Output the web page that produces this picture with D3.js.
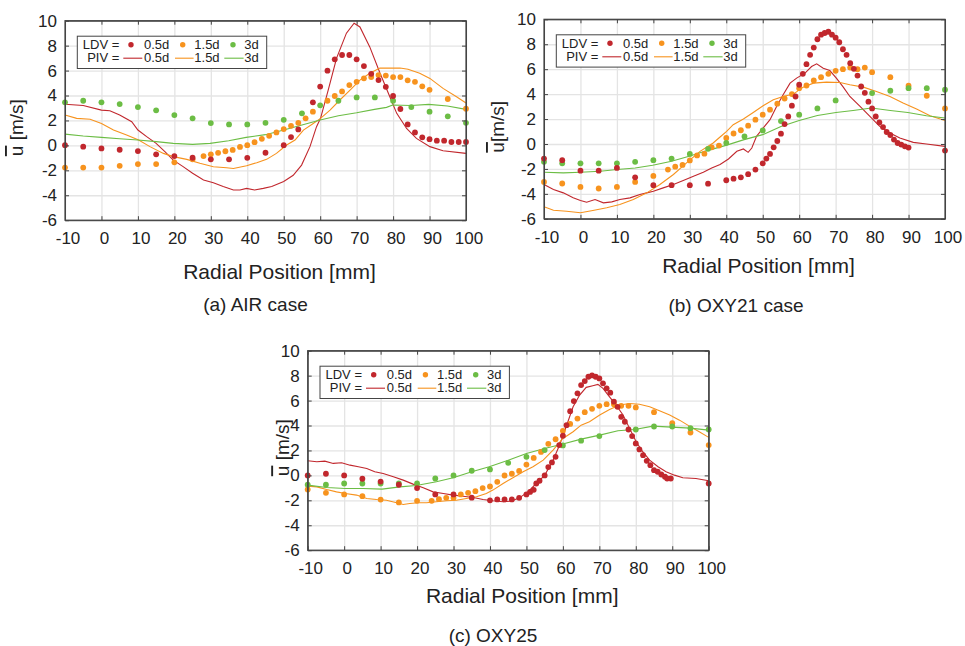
<!DOCTYPE html>
<html>
<head>
<meta charset="utf-8">
<script src="https://cdn.jsdelivr.net/npm/d3@7"></script>
<style>
  body { margin: 0; background: #fff; }
  svg { font-family: "Liberation Sans", Arial, sans-serif; }
  .grid line { stroke: #e4e4e4; stroke-width: 1.3; }
  .grid path { display: none; }
  .ax path, .ax line { stroke: #444; }
  .ax text { fill: #222; font-size: 17px; font-family: "Liberation Sans", Arial, sans-serif; }
</style>
</head>
<body>
<svg width="965" height="646"></svg>
<script>
const xTicks = [-10, 0, 10, 20, 30, 40, 50, 60, 70, 80, 90, 100]
const yTicks = [-6, -4, -2, 0, 2, 4, 6, 8, 10]
const series = ['0.5d', '1.5d', '3d']
const colors = ['#c1272d', '#f7931e', '#6cbd45']

// (a) AIR case
const airLdv05 = [[-10,0.02],[-5,-0.1],[0,-0.24],[5,-0.35],[10,-0.46],[15,-0.72],[20,-0.86],[25,-0.99],[30,-1.12],[35,-1.12],[40,-1.0],[45,-0.59],[50,0.02],[52,0.67],[54,1.28],[58,3.45],[60,4.72],[62,5.99],[64,6.9],[66,7.25],[68,7.25],[70,6.9],[72,6.36],[74,5.74],[76,5.24],[78,4.7],[80,3.96],[82,2.92],[84,1.68],[86,1.04],[88,0.65],[90,0.5],[92,0.38],[94,0.38],[96,0.27],[98,0.27],[100,0.27]]
const airLdv15 = [[-10,-1.78],[-5,-1.78],[0,-1.78],[5,-1.64],[10,-1.5],[15,-1.5],[20,-1.36],[25,-1.12],[28,-0.86],[30,-0.72],[32,-0.6],[34,-0.47],[36,-0.36],[38,-0.12],[40,0.02],[42,0.26],[44,0.53],[46,0.77],[48,1.04],[50,1.31],[52,1.57],[54,1.81],[56,2.17],[58,2.7],[62,3.58],[64,3.96],[66,4.33],[68,4.84],[70,5.1],[72,5.38],[74,5.48],[76,5.64],[78,5.6],[80,5.48],[82,5.48],[84,5.22],[86,5.1],[88,4.74],[90,4.46],[95,3.72],[100,2.94]]
const airLdv3 = [[-10,3.45],[-5,3.58],[0,3.45],[5,3.31],[10,3.07],[15,2.81],[20,2.43],[25,2.17],[30,1.79],[35,1.68],[40,1.68],[45,1.81],[50,2.05],[55,2.57],[60,3.21],[65,3.58],[70,3.85],[75,3.85],[80,3.58],[85,3.07],[90,2.7],[95,2.33],[100,1.81]]
const airPiv05 = [[-10,3.3],[-5,3.2],[0,2.83],[2.3,2.78],[5,2.43],[8.3,1.9],[10,1.23],[12.4,0.7],[15,0.16],[17.4,-0.5],[19.7,-1.18],[22.4,-1.7],[25,-2.24],[28,-2.78],[30.7,-3.0],[33.4,-3.3],[36.2,-3.58],[38,-3.58],[39.8,-3.45],[42,-3.58],[44.4,-3.45],[46.7,-3.3],[50,-2.9],[52.6,-2.4],[54.9,-1.58],[57.2,-0.1],[59,1.5],[60.1,2.17],[62.2,4.44],[64.5,7.0],[67.2,9.0],[69.3,9.8],[70.9,9.5],[73.6,7.9],[76.4,5.8],[79.1,3.9],[81,2.57],[83.7,1.36],[86.4,0.56],[90.1,-0.1],[93.7,-0.43],[100,-0.64]]
const airPiv15 = [[-10,2.43],[-6.8,2.17],[-3.1,2.1],[0,1.76],[3.3,1.23],[6.9,0.83],[10.2,0.43],[13.3,-0.1],[17,-0.64],[19.7,-0.9],[23.4,-1.12],[27,-1.44],[30.7,-1.71],[34.3,-1.79],[36.2,-1.85],[39.8,-1.63],[42.6,-1.39],[45.3,-1.12],[48,-0.64],[50.8,0.03],[53.1,0.43],[55.4,1.23],[58.1,1.76],[60.1,2.17],[62.7,2.83],[65.4,3.64],[68.2,4.44],[70.9,5.24],[73.6,5.78],[76.4,6.2],[79.1,6.2],[81.9,6.2],[84.1,6.1],[87.3,5.78],[90.1,5.37],[93.7,4.57],[97.4,3.9],[100,3.4]]
const airPiv3 = [[-10,0.9],[-5,0.75],[0,0.64],[5,0.53],[10,0.43],[15,0.3],[19.7,0.16],[25,0.08],[29.8,0.16],[34.9,0.37],[39.7,0.64],[45,0.86],[50,1.23],[55,1.63],[60,2.03],[65,2.38],[70,2.62],[74.9,2.89],[78.2,3.05],[79.9,3.24],[84.9,3.2],[89.8,3.29],[94.9,3.16],[100,2.89]]

// (b) OXY21 case
const oxy21Ldv05 = [[-10,-1.17],[-5,-1.3],[0,-2.14],[5,-2.14],[10,-1.92],[15,-2.67],[20,-3.3],[25,-3.3],[30,-3.3],[35,-3.18],[40,-2.91],[42,-2.78],[44,-2.67],[46,-2.42],[48,-2.05],[50,-1.55],[51,-1.17],[52,-0.8],[53,-0.27],[54,0.24],[55,0.83],[56,1.6],[57,2.21],[58,3.07],[59,3.81],[60,4.75],[61,5.63],[62,6.4],[63,7.15],[64,7.73],[65,8.4],[66,8.77],[67,8.9],[68,9.0],[69,8.77],[70,8.53],[71,8.16],[72,7.6],[73,7.15],[74,6.48],[75,6.03],[76,5.49],[77,4.61],[78,4.1],[79,3.39],[80,2.85],[81,2.21],[82,1.73],[83,1.36],[84,0.96],[85,0.72],[86,0.35],[87,0.08],[88,-0.05],[89,-0.19],[90,-0.29],[100,-0.53]]
const oxy21Ldv15 = [[-10,-3.04],[-5,-3.17],[0,-3.44],[5,-3.57],[10,-3.44],[15,-3.04],[20,-2.56],[24,-2.05],[26,-1.82],[28,-1.68],[30,-1.32],[32,-0.92],[34,-0.78],[36,-0.27],[38,-0.13],[40,0.48],[42,0.84],[44,1.1],[46,1.47],[48,1.95],[50,2.35],[52,2.75],[54,3.23],[56,3.65],[58,4.0],[60,4.48],[62,4.69],[64,5.09],[66,5.36],[68,5.63],[70,5.87],[72,6.0],[74,6.13],[76,6.0],[78,6.13],[80,5.76],[85,5.36],[90,4.67],[95,3.87],[100,2.85]]
const oxy21Ldv3 = [[-10,-1.43],[-5,-1.55],[0,-1.55],[5,-1.55],[10,-1.55],[15,-1.43],[20,-1.3],[25,-1.17],[30,-0.8],[35,-0.39],[40,0.09],[45,0.61],[50,1.09],[55,1.84],[60,2.35],[65,2.85],[70,3.49],[80,4.08],[85,4.27],[90,4.48],[95,4.48],[100,4.35]]
const oxy21Piv05 = [[-10,-3.25],[-7.4,-3.65],[-4.7,-3.92],[-2,-4.32],[0,-4.53],[1.7,-4.67],[4,-4.45],[6.3,-4.72],[8.6,-4.64],[10.8,-4.45],[13.6,-4.32],[16.3,-4.05],[18.2,-3.92],[20,-3.79],[22.7,-3.52],[25.5,-3.25],[28.2,-2.93],[31,-2.59],[33.7,-2.27],[36,-1.92],[38.3,-1.65],[40.6,-1.2],[42.9,-0.59],[44.7,-0.4],[46,-0.67],[47,-0.32],[48.3,0.61],[50.1,1.28],[52,1.95],[53.8,3.01],[55.6,3.95],[57.5,4.88],[59.3,5.28],[61.6,5.68],[63.4,6.21],[64.8,6.43],[66.6,6.08],[68.4,5.89],[70.2,5.28],[72.1,4.56],[73.9,3.81],[76.7,3.01],[79.4,2.21],[82.1,1.41],[84.9,0.88],[87.6,0.48],[91.3,0.13],[94.9,0.0],[100,-0.19]]
const oxy21Piv15 = [[-10,-5.04],[-7.4,-5.31],[-3.8,-5.39],[0,-5.52],[3.4,-5.33],[7.2,-5.12],[10.8,-4.85],[14.5,-4.45],[18.2,-3.92],[21.8,-3.25],[25.5,-2.45],[29.1,-1.52],[32.8,-0.59],[36.4,0.08],[38.3,0.56],[40.1,1.01],[41.9,1.55],[44.7,2.0],[47.4,2.53],[50.1,3.07],[52.9,3.55],[55.6,3.81],[58.4,4.0],[61.1,4.56],[63.9,4.88],[67.5,4.96],[71.2,4.93],[73.9,4.75],[77.6,4.56],[81.2,4.21],[84.9,3.81],[88.5,3.28],[92.2,2.8],[95.9,2.27],[100,1.89]]
const oxy21Piv3 = [[-10,-2.27],[-4.7,-2.32],[0,-2.27],[5.4,-2.19],[10.1,-2.05],[15,-1.92],[19.8,-1.71],[25,-1.39],[29.8,-0.99],[35,-0.51],[39.9,-0.11],[44.9,0.35],[50,0.75],[55,1.41],[60,1.89],[65,2.29],[70.1,2.53],[74.8,2.69],[79.8,2.88],[85,2.69],[89.8,2.53],[94.9,2.27],[100,2.08]]

// (c) OXY25
const oxy25Ldv05 = [[-10,0.0],[-5,0.13],[0,0.0],[5,-0.27],[10,-0.5],[15,-0.75],[20,-1.02],[25,-1.53],[30,-1.53],[35,-1.79],[40,-2.0],[42,-1.93],[44,-1.93],[46,-1.93],[48,-1.8],[50,-1.53],[51,-1.33],[52,-1.16],[52.7,-0.65],[53.6,-0.43],[55,0.0],[56,0.67],[57,1.04],[58,1.49],[59,2.43],[60,3.18],[61,4.03],[62,5.15],[63,5.96],[64,6.58],[65,7.24],[66,7.56],[67,7.91],[68,8.02],[69,7.91],[70,7.78],[71,7.38],[72,6.98],[73,6.63],[74,5.91],[75,5.5],[76,4.7],[77,4.3],[78,3.68],[79,3.15],[80,2.56],[81,2.08],[82,1.62],[83,1.17],[84,0.82],[85,0.42],[86,0.29],[87,0.07],[88,-0.11],[88.6,-0.25],[89.6,-0.25],[100,-0.65]]
const oxy25Ldv15 = [[-10,-1.13],[-5,-1.4],[0,-1.53],[5,-1.67],[10,-1.94],[15,-2.17],[20,-2.04],[24,-2.04],[26,-1.91],[28,-1.8],[30,-1.8],[32,-1.53],[34,-1.4],[36,-1.27],[38,-1.02],[40,-0.89],[42,-0.52],[44,-0.01],[46,0.13],[48,0.36],[50,0.87],[52,1.4],[54,1.88],[56,2.53],[58,2.9],[60,3.57],[62,4.13],[64,4.56],[66,5.07],[68,5.34],[70,5.58],[72,5.71],[74,5.71],[76,5.58],[78,5.58],[80,5.45],[85,5.07],[90,4.19],[95,3.44],[100,2.43]]
const oxy25Ldv3 = [[-10,-0.75],[-5,-0.75],[0,-0.65],[5,-0.65],[10,-0.65],[15,-0.65],[20,-0.65],[25,-0.25],[30,0.0],[35,0.37],[40,0.48],[45,1.01],[50,1.49],[55,2.03],[60,2.4],[65,2.78],[70,3.15],[80,3.68],[85,3.92],[90,3.92],[95,3.79],[100,3.68]]
const oxy25Piv05 = [[-10,1.17],[-7.5,1.09],[-5.3,1.14],[-3,0.96],[-0.7,1.01],[1.6,0.82],[3.9,0.69],[6.2,0.56],[8.4,0.29],[10.7,0.15],[13.5,-0.11],[16.2,-0.38],[18.9,-0.7],[21.7,-1.0],[24.4,-1.32],[27.2,-1.45],[29.9,-1.58],[32.6,-1.67],[35.4,-1.77],[38.1,-1.93],[40.8,-2.04],[43.6,-2.12],[45.9,-2.06],[48.1,-1.8],[50.4,-1.32],[52.7,-0.65],[55,0.0],[57.3,1.22],[59.1,2.43],[60.9,3.9],[62.8,5.5],[64.6,6.44],[66.4,7.06],[68.2,7.19],[69.6,7.3],[71,6.98],[72.8,6.3],[74.6,5.64],[76.5,4.84],[78.3,3.77],[80.1,2.7],[81.9,1.9],[83.8,1.22],[86.1,0.69],[88.3,0.29],[90.6,0.02],[92.9,-0.19],[96.5,-0.25],[100,-0.43]]
const oxy25Piv15 = [[-10,-0.86],[-7.5,-0.92],[-4.8,-1.13],[-2.1,-1.32],[0.3,-1.45],[3.4,-1.58],[6.2,-1.85],[8.9,-1.93],[11.6,-1.99],[14.4,-2.2],[16.2,-2.33],[18,-2.25],[20.3,-2.2],[22.6,-2.2],[25.3,-2.12],[28.1,-2.04],[30.8,-1.99],[33.5,-1.85],[36.3,-1.72],[39,-1.45],[40.8,-1.18],[43.6,-0.65],[46.3,-0.19],[49.1,0.29],[51.8,0.69],[54.6,1.22],[57.3,2.03],[60,2.96],[62.8,3.5],[65,4.03],[67.3,4.3],[70.1,4.84],[72.8,5.29],[75.6,5.64],[78.3,5.77],[81,5.71],[83.8,5.5],[86.5,5.18],[89.3,4.84],[92,4.43],[94.7,3.95],[97.4,3.5],[100,3.05]]
const oxy25Piv3 = [[-10,-0.78],[-4.8,-0.97],[0.3,-1.05],[5.2,-1.05],[10.4,-1.1],[15.3,-0.92],[19.8,-0.81],[25.3,-0.51],[29.9,-0.19],[35,0.29],[39.8,0.69],[45,1.22],[50,1.76],[55,2.16],[60,2.51],[65,2.91],[70.1,3.23],[75.1,3.58],[79.7,3.68],[84.7,3.95],[89.8,3.87],[94.9,3.79],[100,3.63]]

const svg = d3.select('svg')
const W = 401
const H = 199.5

const panels = [
	{ left: 65, top: 20.7, caption: '(a) AIR case', capX: 190.5, capY: 290.8, titleY: 258.6, ylabX: -42, ylabY: 107, space: ' ',
		ldv: [airLdv05, airLdv15, airLdv3], piv: [airPiv05, airPiv15, airPiv3] },
	{ left: 544, top: 19.3, caption: '(b) OXY21 case', capX: 192, capY: 292.4, titleY: 253.4, ylabX: -40, ylabY: 107.5, space: '',
		ldv: [oxy21Ldv05, oxy21Ldv15, oxy21Ldv3], piv: [oxy21Piv05, oxy21Piv15, oxy21Piv3] },
	{ left: 307.7, top: 350.7, caption: '(c) OXY25', capX: 185.3, capY: 291, titleY: 252, ylabX: -18.5, ylabY: 97, space: ' ',
		ldv: [oxy25Ldv05, oxy25Ldv15, oxy25Ldv3], piv: [oxy25Piv05, oxy25Piv15, oxy25Piv3] },
]

const drawLegend = (g) => {
	const lg = g.append('g').attr('transform', 'translate(12.3,15.5)')
	lg.append('rect')
		.attr('width', 189.4).attr('height', 32.3)
		.attr('fill', '#fff').attr('stroke', '#444').attr('stroke-width', 1)
	const rows = [{ label: 'LDV =', y: 13 }, { label: 'PIV =', y: 26.3 }]
	rows.forEach(r => {
		lg.append('text').attr('x', 42).attr('y', r.y)
			.attr('text-anchor', 'end').attr('font-size', 13).attr('fill', '#222')
			.text(r.label)
	})
	const dotX = [53.7, 105.4, 155.7]
	const textX = [66.7, 117, 167]
	const lineX = [[46, 65], [97.7, 116.3], [147, 166.3]]
	series.forEach((s, i) => {
		lg.append('circle').attr('cx', dotX[i]).attr('cy', 8.5).attr('r', 2.7).attr('fill', colors[i])
		lg.append('line').attr('x1', lineX[i][0]).attr('x2', lineX[i][1])
			.attr('y1', 22).attr('y2', 22).attr('stroke', colors[i]).attr('stroke-width', 1.1)
		rows.forEach(r => {
			lg.append('text').attr('x', textX[i]).attr('y', r.y)
				.attr('font-size', 13).attr('fill', '#222').text(s)
		})
	})
}

const drawPanel = (p) => {
	const g = svg.append('g').attr('transform', `translate(${p.left},${p.top})`)
	const x = d3.scaleLinear().domain([-10, 100]).range([0, W])
	const y = d3.scaleLinear().domain([-6, 10]).range([H, 0])

	g.append('g').attr('class', 'grid').attr('transform', `translate(0,${H})`)
		.call(d3.axisBottom(x).tickValues(xTicks).tickSize(-H).tickFormat(''))
	g.append('g').attr('class', 'grid')
		.call(d3.axisLeft(y).tickValues(yTicks).tickSize(-W).tickFormat(''))

	const line = d3.line().x(d => x(d[0])).y(d => y(d[1]))

	p.piv.forEach((arr, i) => {
		g.append('path').datum(arr)
			.attr('d', line).attr('fill', 'none')
			.attr('stroke', colors[i]).attr('stroke-width', 1.1)
	})

	// red drawn last so the 0.5d profile sits on top, as in the figure
	;[1, 2, 0].forEach(i => {
		g.append('g').selectAll('circle')
			.data(p.ldv[i])
			.enter()
			.append('circle')
			.attr('cx', d => x(d[0]))
			.attr('cy', d => y(d[1]))
			.attr('r', 2.9)
			.attr('fill', colors[i])
	})

	g.append('rect').attr('width', W).attr('height', H)
		.attr('fill', 'none').attr('stroke', '#444').attr('stroke-width', 1.2)

	const bottom = g.append('g').attr('class', 'ax').attr('transform', `translate(0,${H})`)
		.call(d3.axisBottom(x).tickValues(xTicks).tickSizeInner(-4).tickSizeOuter(0).tickPadding(12).tickFormat(d => String(d)))
	bottom.selectAll('text').attr('dx', 2.5)
	g.append('g').attr('class', 'ax')
		.call(d3.axisLeft(y).tickValues(yTicks).tickSizeInner(-4).tickSizeOuter(0).tickPadding(8).tickFormat(d => String(d)))
	g.append('g').attr('class', 'ax')
		.call(d3.axisTop(x).tickValues(xTicks).tickSizeInner(-4).tickSizeOuter(0).tickFormat(''))
	g.append('g').attr('class', 'ax').attr('transform', `translate(${W},0)`)
		.call(d3.axisRight(y).tickValues(yTicks).tickSizeInner(-4).tickSizeOuter(0).tickFormat(''))
	g.selectAll('.ax').attr('font-family', null).attr('font-size', null)

	drawLegend(g)

	g.append('text').attr('x', 214.5).attr('y', p.titleY)
		.attr('text-anchor', 'middle').attr('font-size', 21).attr('fill', '#222')
		.text('Radial Position [mm]')

	const yl = g.append('text')
		.attr('transform', `translate(${p.ylabX},${p.ylabY}) rotate(-90)`)
		.attr('text-anchor', 'middle').attr('font-size', 19).attr('fill', '#222')
	yl.append('tspan').style('text-decoration', 'overline').text('u')
	yl.append('tspan').text(p.space + '[m/s]')

	g.append('text').attr('x', p.capX).attr('y', p.capY)
		.attr('text-anchor', 'middle').attr('font-size', 19).attr('fill', '#222')
		.text(p.caption)
}

panels.forEach(drawPanel)
</script>
</body>
</html>
